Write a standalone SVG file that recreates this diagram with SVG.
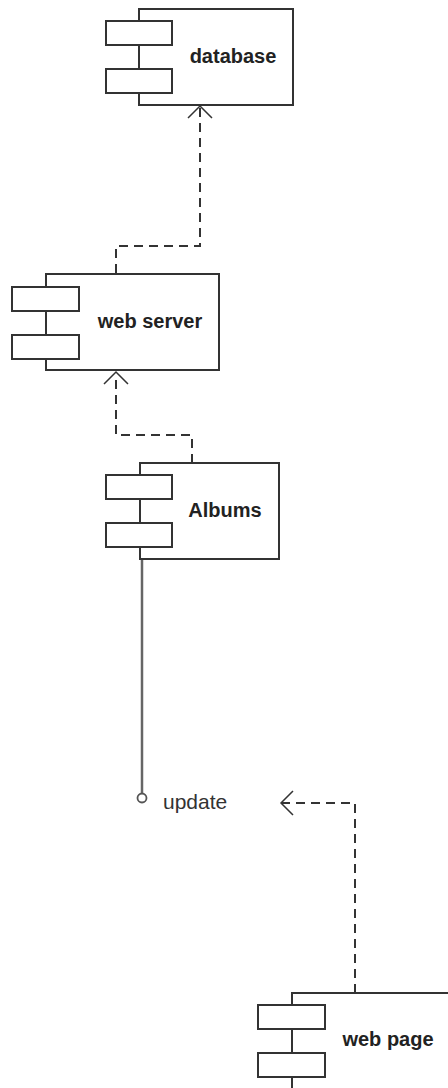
<svg xmlns="http://www.w3.org/2000/svg" width="448" height="1088" viewBox="0 0 448 1088">
<style>
.box{fill:#fff;stroke:#333;stroke-width:2}
.port{fill:#fff;stroke:#333;stroke-width:2}
.lbl{font-family:"Liberation Sans",Arial,sans-serif;font-size:20px;font-weight:bold;fill:#222}
.dep{fill:none;stroke:#333;stroke-width:2;stroke-dasharray:9,6}
.head{fill:none;stroke:#333;stroke-width:1.5}
.iface{fill:none;stroke:#666;stroke-width:2.5}
.txt{font-family:"Liberation Sans",Arial,sans-serif;font-size:21px;fill:#333}
</style>
<rect width="448" height="1088" fill="#fff"/>
<g id="connectors">
<path class="dep" d="M116,273 V246 H200 V108"/>
<path class="head" d="M188,118 L200,106 L212,118"/>
<path class="dep" d="M192,463 V435 H116 V374"/>
<path class="head" d="M104,384 L116,372 L128,384"/>
<path class="dep" d="M355,993 V803 H282"/>
<path class="head" d="M293,791 L281,803 L293,815"/>
<line class="iface" x1="142" y1="548" x2="142" y2="793"/>
<circle cx="142" cy="798" r="4.5" fill="#fff" stroke="#555" stroke-width="1.8"/>
<text class="txt" x="163" y="809">update</text>
</g>
<g id="database">
<rect class="box" x="139" y="9" width="154" height="96"/>
<rect class="port" x="106" y="21" width="66" height="24"/>
<rect class="port" x="106" y="69" width="66" height="24"/>
<text class="lbl" x="233" y="63" text-anchor="middle">database</text>
</g>
<g id="webserver">
<rect class="box" x="46" y="274" width="173" height="96"/>
<rect class="port" x="12" y="287" width="67" height="24"/>
<rect class="port" x="12" y="335" width="67" height="24"/>
<text class="lbl" x="150" y="328" text-anchor="middle">web server</text>
</g>
<g id="albums">
<rect class="box" x="140" y="463" width="139" height="96"/>
<rect class="port" x="106" y="475" width="66" height="24"/>
<rect class="port" x="106" y="523" width="66" height="24"/>
<text class="lbl" x="225" y="517" text-anchor="middle">Albums</text>
</g>
<g id="webpage">
<rect class="box" x="292" y="993" width="170" height="97"/>
<rect class="port" x="258" y="1005" width="67" height="24"/>
<rect class="port" x="258" y="1053" width="67" height="24"/>
<text class="lbl" x="388" y="1046" text-anchor="middle">web page</text>
</g>
</svg>
